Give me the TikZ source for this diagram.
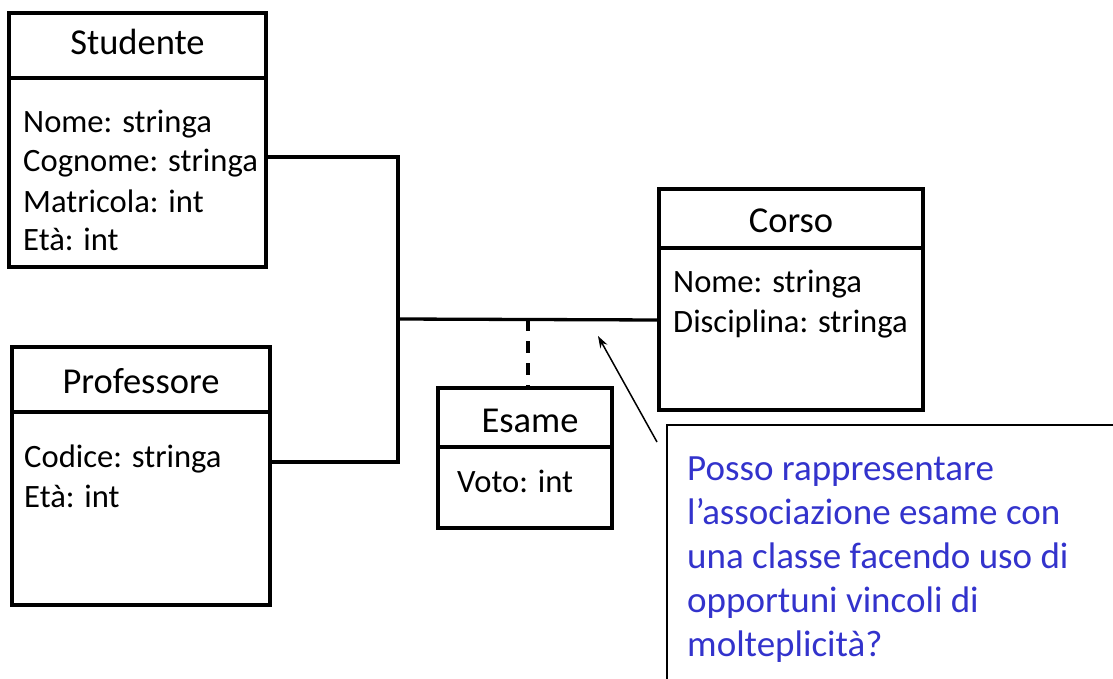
\documentclass[tikz,border=0pt]{standalone}
\usepackage{fontspec}
\setmainfont{Carlito}
\usetikzlibrary{arrows.meta}
\definecolor{noteblue}{RGB}{51,51,204}
\begin{document}
\begin{tikzpicture}[x=1pt,y=-1pt,
  classbox/.style={draw, line width=4pt, rectangle, anchor=north west, inner sep=0pt, outer sep=0pt},
  titletext/.style={font=\fontsize{36.5}{43}\selectfont, anchor=base, inner sep=0pt},
  attrtext/.style={font=\fontsize{32.6}{39}\selectfont, anchor=base west, inner sep=0pt},
  divider/.style={line width=4pt},
  assoc/.style={line width=3.3pt},
  assocdash/.style={line width=3.3pt, dash pattern=on 12pt off 10pt},
  notebox/.style={draw, line width=2pt, rectangle, anchor=north west, inner sep=0pt, outer sep=0pt},
  notetext/.style={font=\fontsize{37}{44}\selectfont, text=noteblue, anchor=base west, inner sep=0pt},
  pointer/.style={line width=1.5pt, -{Stealth[length=12pt,width=8pt]}}
]
\useasboundingbox (0,0) rectangle (1113,679);
\clip (0,0) rectangle (1113,679);

% Studente
\node[classbox, minimum width=257pt, minimum height=254pt] (stud) at (9,13) {};
\draw[divider] (stud.west |- 0,78) -- (stud.east |- 0,78);
\node[titletext] (studT) at (137.5,55) {Studente};
\node[attrtext] (studA1) at (23,133) {Nome: stringa};
\node[attrtext] (studA2) at (23,172) {Cognome: stringa};
\node[attrtext] (studA3) at (23,212) {Matricola: int};
\node[attrtext] (studA4) at (23,250) {Età: int};

% Professore
\node[classbox, minimum width=258pt, minimum height=258pt] (prof) at (12,347) {};
\draw[divider] (prof.west |- 0,412) -- (prof.east |- 0,412);
\node[titletext] (profT) at (141,393) {Professore};
\node[attrtext] (profA1) at (24,467) {Codice: stringa};
\node[attrtext] (profA2) at (24,507) {Età: int};

% Corso
\node[classbox, minimum width=264pt, minimum height=221pt] (corso) at (659,189) {};
\draw[divider] (corso.west |- 0,248) -- (corso.east |- 0,248);
\node[titletext] (corsoT) at (791,232) {Corso};
\node[attrtext] (corsoA1) at (673,292) {Nome: stringa};
\node[attrtext] (corsoA2) at (673,332) {Disciplina: stringa};

% Esame
\node[classbox, minimum width=174pt, minimum height=140pt] (esame) at (438,388) {};
\draw[divider] (esame.west |- 0,447) -- (esame.east |- 0,447);
\node[titletext] (esameT) at (530,432) {Esame};
\node[attrtext] (esameA1) at (457,492) {Voto: int};

% association
\coordinate (jtop) at (398,157);
\coordinate (jmid) at (398,319);
\coordinate (jbot) at (398,462);
\coordinate (jdash) at (528,319);
\draw[assoc] (stud.east |- jtop) -- (jtop) -- (jbot) -- (prof.east |- jbot);
\draw[assoc] (jmid) -- (corso.west |- 0,320);
\draw[assocdash] (jdash) -- (esame.north -| jdash);

% note
\node[notebox, minimum width=470pt, minimum height=280pt] (note) at (667,425) {};
\node[notetext] (n1) at (687,480) {Posso rappresentare};
\node[notetext] (n2) at (687,524) {l’associazione esame con};
\node[notetext] (n3) at (687,568) {una classe facendo uso di};
\node[notetext] (n4) at (687,612) {opportuni vincoli di};
\node[notetext] (n5) at (687,656) {molteplicità?};
\coordinate (ptail) at (657,442);
\coordinate (ptip) at (598,336);
\draw[pointer] (ptail) -- (ptip);
\end{tikzpicture}
\end{document}
